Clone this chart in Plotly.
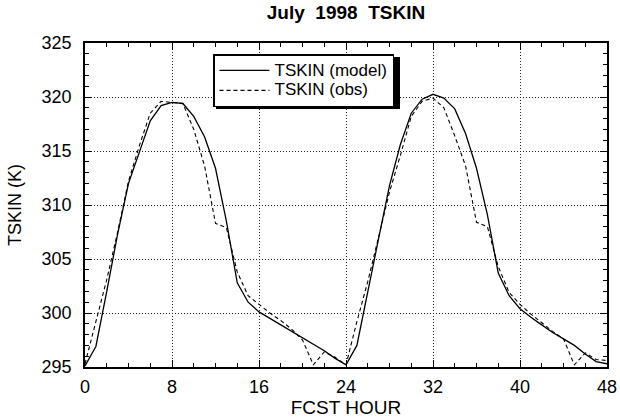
import plotly.graph_objects as go

# Forecast hour axis and skin temperature series (K)
fcst_hour = list(range(0, 49))

tskin_model = [295.1, 296.9, 302.0, 307.3, 312.0, 315.0, 317.8, 319.2, 319.5, 319.4,
               318.2, 316.3, 313.4, 308.5, 302.8, 301.0, 300.1, 299.5, 298.9, 298.3,
               297.7, 297.1, 296.5, 295.8, 295.2, 297.0, 302.1, 306.9, 311.8, 315.6,
               318.5, 319.8, 320.25, 319.9, 318.9, 316.6, 313.4, 309.1, 303.7, 301.6,
               300.4, 299.6, 298.9, 298.2, 297.6, 297.0, 296.2, 295.5, 295.3]

tskin_obs = [295.3, 299.3, 303.1, 307.5, 312.2, 315.5, 318.5, 319.6, 319.5, 319.4,
             317.0, 313.6, 308.3, 307.9, 303.8, 301.6, 300.8, 300.0, 299.3, 298.5,
             297.5, 295.2, 296.4, 295.9, 295.2, 299.2, 302.9, 307.0, 311.2, 314.6,
             318.2, 319.6, 319.9, 319.0, 316.4, 313.6, 308.4, 308.0, 304.3, 301.9,
             300.8, 299.9, 299.1, 298.3, 297.6, 295.2, 296.3, 295.7, 295.6]

x_ticks = [0, 8, 16, 24, 32, 40, 48]
y_ticks = [295, 300, 305, 310, 315, 320, 325]

FONT = "Liberation Sans, Arial, Helvetica, sans-serif"
W, H = 620, 418
L, R, T, B = 85, 13, 43, 51
PW, PH = W - L - R, H - T - B


def legend_label(text):
    # larger glyphs than the legend's base font, keeping the entries tightly spaced
    return f'<span style="font-size:17px">{text}</span>'


fig = go.Figure()
fig.add_trace(go.Scatter(x=fcst_hour, y=tskin_model, mode="lines",
                         name=legend_label("TSKIN (model)"),
                         line=dict(color="black", width=1.3)))
fig.add_trace(go.Scatter(x=fcst_hour, y=tskin_obs, mode="lines",
                         name=legend_label("TSKIN (obs)"),
                         line=dict(color="black", width=1.1, dash="4px,3px")))

# legend box and its drop shadow (pixel positions converted to paper units)
lx0, ly0, lx1, ly1 = 213, 54, 396, 106
sh = 3
fig.add_shape(type="rect", xref="paper", yref="paper",
              x0=(lx0 + sh - L) / PW, x1=(lx1 + sh + 1 - L) / PW,
              y0=(H - B - (ly1 + sh)) / PH, y1=(H - B - (ly0 + sh)) / PH,
              fillcolor="black", line=dict(width=0), layer="above")

axis_common = dict(
    showline=True, linecolor="black", linewidth=1.5, mirror="allticks",
    ticks="inside", ticklen=7, tickwidth=1, tickcolor="black",
    showgrid=True, gridcolor="#222", gridwidth=1, griddash="1px,2px",
    zeroline=False, automargin=False,
    tickfont=dict(family=FONT, size=18, color="black"),
)

fig.update_layout(
    width=W, height=H,
    margin=dict(l=L, r=R, t=T, b=B),
    paper_bgcolor="white", plot_bgcolor="white",
    font=dict(family=FONT, color="black"),
    title=dict(text="July\u00a0\u00a01998\u00a0\u00a0TSKIN",
               font=dict(family=FONT, size=19, color="black", weight="bold"),
               x=(L + PW / 2) / W, xanchor="center", xref="container",
               y=1 - 12 / H, yanchor="middle", yref="container"),
    xaxis=dict(range=[0, 48], tickvals=x_ticks, ticklabelstandoff=3,
               minor=dict(dtick=2, tick0=0, ticks="inside", ticklen=4,
                          tickcolor="black", showgrid=False),
               title=dict(text="FCST HOUR",
                          font=dict(family=FONT, size=19, color="black")),
               **axis_common),
    yaxis=dict(range=[295, 325], tickvals=y_ticks, ticklabelstandoff=8,
               minor=dict(dtick=1, tick0=295, ticks="inside", ticklen=4,
                          tickcolor="black", showgrid=False),
               title=dict(text="TSKIN (K)",
                          font=dict(family=FONT, size=18, color="black")),
               **axis_common),
    showlegend=True,
    legend=dict(x=(lx0 - L) / PW, y=(H - B - ly0) / PH, xanchor="left", yanchor="top",
                bgcolor="white", bordercolor="black", borderwidth=1.5,
                font=dict(family=FONT, size=13, color="black"),
                itemwidth=50, tracegroupgap=0),
)

fig.write_html("out.html")
